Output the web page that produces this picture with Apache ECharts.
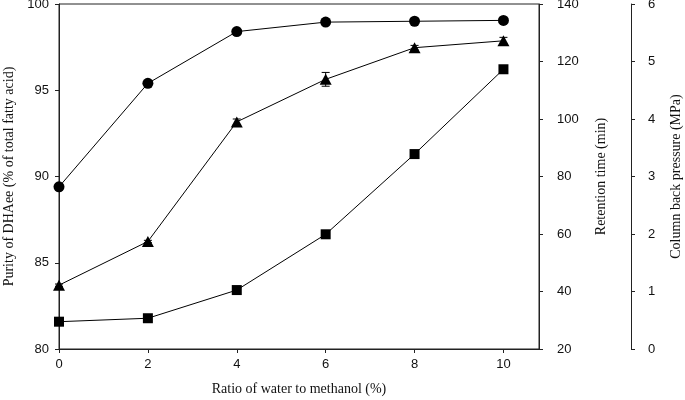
<!DOCTYPE html>
<html>
<head>
<meta charset="utf-8">
<script src="https://cdn.jsdelivr.net/npm/echarts@6/dist/echarts.min.js"></script>
<style>
  html, body { margin: 0; padding: 0; background: #fff; }
  #chart { width: 685px; height: 400px; }
</style>
</head>
<body>
<div id="chart"></div>
<script>
// water ratio (%) on the x axis
const waterRatio = [0, 2, 4, 6, 8, 10];
// purity of DHAee (% of total fatty acid), circles, left axis
const purity = [89.4, 95.4, 98.4, 98.95, 99.0, 99.05];
// retention time (min), squares
const retention = [29.5, 30.7, 40.5, 59.9, 87.8, 117.3];
// column back pressure (MPa), triangles
const pressure = [1.11, 1.87, 3.95, 4.69, 5.24, 5.36];
const pressureErr = [0.02, 0.02, 0.05, 0.12, 0.04, 0.06];

const xTicks = { min: 0, max: 10.8, interval: 2 };
const purityTicks = { min: 80, max: 100, interval: 5 };
const retentionTicks = { min: 20, max: 140, interval: 20 };
const pressureTicks = { min: 0, max: 6, interval: 1 };

const axisColor = '#222';
const labelFont = { color: '#111', fontSize: 13, fontFamily: "'Liberation Sans', Arial, sans-serif" };
const nameFont = { color: '#111', fontSize: 14, fontFamily: "'Liberation Serif', 'Times New Roman', serif" };

const chart = echarts.init(document.getElementById('chart'), null, { renderer: 'canvas' });

const pair = (xs, ys) => xs.map((x, i) => [x, ys[i]]);

const baseLine = { show: true, lineStyle: { color: axisColor, width: 1 } };
const baseTick = { show: true, inside: false, length: 4, lineStyle: { color: axisColor, width: 1 } };

const option = {
	animation: false,
	grid: {
		left: 59,
		top: 4,
		right: 146,
		bottom: 51,
		show: true,
		borderColor: axisColor,
		borderWidth: 1,
		containLabel: false,
		// keep the plot box where it is (v6 would shrink it to fit labels)
		outerBoundsMode: 'none',
	},
	xAxis: {
		type: 'value',
		...xTicks,
		name: 'Ratio of water to methanol (%)',
		nameLocation: 'middle',
		nameGap: 33,
		nameTextStyle: nameFont,
		axisLine: baseLine,
		axisTick: baseTick,
		axisLabel: { ...labelFont, margin: 9, showMaxLabel: false,
			formatter: (v) => (v % 2 === 0 ? String(v) : '') },
		splitLine: { show: false },
	},
	yAxis: [
		{
			type: 'value',
			position: 'left',
			...purityTicks,
			name: 'Purity of DHAee (% of total fatty acid)',
			nameLocation: 'middle',
			nameRotate: 90,
			nameGap: 43,
			nameTextStyle: nameFont,
			axisLine: baseLine,
			axisTick: baseTick,
			axisLabel: { ...labelFont, margin: 10 },
			splitLine: { show: false },
		},
		{
			type: 'value',
			position: 'right',
			...retentionTicks,
			name: 'Retention time (min)',
			nameLocation: 'middle',
			nameRotate: 90,
			nameGap: 55,
			nameTextStyle: nameFont,
			axisLine: baseLine,
			axisTick: baseTick,
			axisLabel: { ...labelFont, margin: 18 },
			splitLine: { show: false },
		},
		{
			type: 'value',
			position: 'right',
			offset: 92,
			...pressureTicks,
			name: 'Column back pressure (MPa)',
			nameLocation: 'middle',
			nameRotate: 90,
			nameGap: 38,
			nameTextStyle: nameFont,
			axisLine: baseLine,
			axisTick: baseTick,
			axisLabel: { ...labelFont, margin: 17 },
			splitLine: { show: false },
		},
	],
	series: [
		{
			name: 'Purity',
			type: 'line',
			yAxisIndex: 0,
			data: pair(waterRatio, purity),
			symbol: 'circle',
			symbolSize: 11,
			lineStyle: { color: '#000', width: 1 },
			itemStyle: { color: '#000' },
		},
		{
			name: 'Retention time',
			type: 'line',
			yAxisIndex: 1,
			data: pair(waterRatio, retention),
			symbol: 'rect',
			symbolSize: 10,
			lineStyle: { color: '#000', width: 1 },
			itemStyle: { color: '#000' },
		},
		{
			name: 'Back pressure',
			type: 'line',
			yAxisIndex: 2,
			data: pair(waterRatio, pressure),
			symbol: 'triangle',
			symbolSize: [12, 11],
			lineStyle: { color: '#000', width: 1 },
			itemStyle: { color: '#000' },
		},
		{
			// error bars for the pressure points
			name: 'Pressure error',
			type: 'custom',
			yAxisIndex: 2,
			data: waterRatio.map((x, i) => [x, pressure[i] - pressureErr[i], pressure[i] + pressureErr[i]]),
			renderItem: (params, api) => {
				const lo = api.coord([api.value(0), api.value(1)]);
				const hi = api.coord([api.value(0), api.value(2)]);
				const w = 4;
				const style = { stroke: '#000', lineWidth: 1 };
				return {
					type: 'group',
					children: [
						{ type: 'line', shape: { x1: lo[0], y1: lo[1], x2: hi[0], y2: hi[1] }, style },
						{ type: 'line', shape: { x1: lo[0] - w, y1: lo[1], x2: lo[0] + w, y2: lo[1] }, style },
						{ type: 'line', shape: { x1: hi[0] - w, y1: hi[1], x2: hi[0] + w, y2: hi[1] }, style },
					],
				};
			},
			z: 1,
		},
	],
};

chart.setOption(option);
</script>
</body>
</html>
